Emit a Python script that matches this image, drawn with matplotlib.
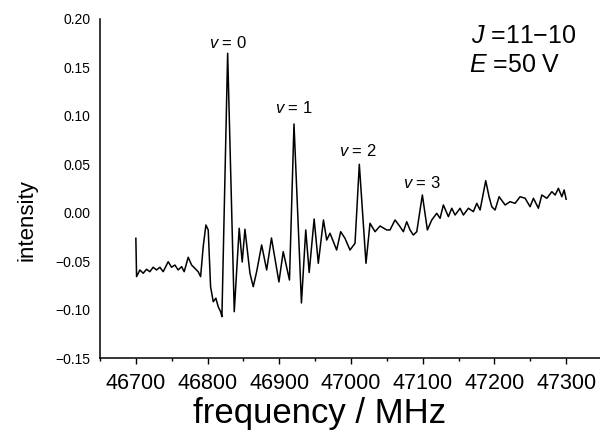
import matplotlib
matplotlib.use("Agg")
import matplotlib.pyplot as plt
from matplotlib.ticker import MultipleLocator, FuncFormatter

plt.rcParams['font.family'] = ['Liberation Sans', 'DejaVu Sans']
plt.rcParams['mathtext.fontset'] = 'custom'
plt.rcParams['mathtext.it'] = 'Liberation Sans:italic'
plt.rcParams['mathtext.rm'] = 'Liberation Sans'

freq = [46700.0, 46701.0, 46705.6, 46710.2, 46714.9, 46719.5, 46724.1, 46728.9, 46733.5, 46738.1,
        46745.1, 46749.8, 46754.4, 46759.0, 46763.8, 46767.4, 46773.0, 46777.7, 46782.3, 46786.9,
        46790.3, 46793.9, 46797.7, 46800.9, 46804.2, 46807.9, 46811.6, 46814.8, 46818.2, 46820.0,
        46828.0, 46837.2, 46844.1, 46848.3, 46852.1, 46859.1, 46863.7, 46868.4, 46875.4, 46882.4,
        46889.1, 46899.5, 46905.5, 46914.2, 46920.5, 46930.9, 46936.9, 46941.7, 46948.6, 46954.4,
        46961.6, 46966.1, 46970.7, 46974.5, 46980.0, 46985.6, 46991.6, 46998.6, 47005.6, 47011.6,
        47020.9, 47026.5, 47033.5, 47040.5, 47049.8, 47054.4, 47061.4, 47068.4, 47073.0, 47077.7,
        47082.3, 47086.9, 47091.7, 47099.5, 47106.5, 47112.6, 47119.6, 47124.2, 47128.8, 47135.8,
        47140.5, 47145.1, 47152.1, 47156.7, 47163.7, 47170.6, 47175.4, 47180.0, 47187.9, 47192.5,
        47196.3, 47200.9, 47206.5, 47214.9, 47221.8, 47228.8, 47235.8, 47242.8, 47249.7, 47254.4,
        47261.3, 47266.1, 47273.1, 47280.1, 47284.7, 47289.2, 47294.0, 47297.2, 47300.0]

intensity = [-0.0264, -0.0660, -0.0591, -0.0625, -0.0584, -0.0609, -0.0563, -0.0591, -0.0563, -0.0609,
             -0.0506, -0.0563, -0.0540, -0.0591, -0.0557, -0.0609, -0.0460, -0.0540, -0.0574, -0.0609,
             -0.0660, -0.0351, -0.0127, -0.0178, -0.0764, -0.0919, -0.0883, -0.0970, -0.1022, -0.1073,
             0.1646, -0.1022, -0.0161, -0.0509, -0.0171, -0.0625, -0.0764, -0.0610, -0.0333, -0.0591,
             -0.0261, -0.0715, -0.0402, -0.0695, 0.0916, -0.0932, -0.0178, -0.0617, -0.0065, -0.0522,
             -0.0075, -0.0282, -0.0212, -0.0282, -0.0385, -0.0196, -0.0264, -0.0385, -0.0316, 0.0500,
             -0.0522, -0.0109, -0.0196, -0.0137, -0.0178, -0.0178, -0.0075, -0.0144, -0.0196, -0.0093,
             -0.0178, -0.0230, -0.0196, 0.0183, -0.0178, -0.0075, -0.0006, -0.0058, 0.0080, -0.0041,
             0.0046, -0.0024, 0.0046, -0.0024, 0.0046, 0.0011, 0.0097, 0.0028, 0.0331, 0.0165,
             0.0062, 0.0028, 0.0165, 0.0080, 0.0114, 0.0097, 0.0165, 0.0149, 0.0062, 0.0149,
             0.0046, 0.0183, 0.0149, 0.0217, 0.0183, 0.0252, 0.0165, 0.0235, 0.0139]

x_ticks = [46700, 46800, 46900, 47000, 47100, 47200, 47300]
y_ticks = [-0.15, -0.10, -0.05, 0.00, 0.05, 0.10, 0.15, 0.20]

peak_labels = ["0", "1", "2", "3"]
peak_freq = [46829, 46920, 47010, 47099]
peak_y = [0.175, 0.108, 0.064, 0.031]

fig = plt.figure(figsize=(6.0, 4.32), dpi=100)
ax = fig.add_axes([100/600, 74/432, 502/600, 339/432])

ax.plot(freq, intensity, color='black', lw=1.1)

ax.set_xlim(46650, 47350)
ax.set_ylim(-0.15, 0.20)

for s in ['top', 'right']:
    ax.spines[s].set_visible(False)
for s in ['left', 'bottom']:
    ax.spines[s].set_linewidth(1.1)

ax.set_xticks(x_ticks)
ax.set_xticklabels([str(v) for v in x_ticks])
ax.xaxis.set_minor_locator(MultipleLocator(50))
ax.set_yticks(y_ticks)
ax.yaxis.set_major_formatter(FuncFormatter(lambda v, p: ("%.2f" % v).replace("-0.00", "0.00").replace("-", "\u2212")))

ax.tick_params(axis='x', which='major', direction='out', length=4.5, width=1.0, labelsize=15.5, pad=6)
ax.tick_params(axis='x', which='minor', direction='out', length=2.5, width=1.0)
ax.tick_params(axis='y', which='both', length=0, labelsize=10, pad=7)

ax.set_xlabel("frequency / MHz", fontsize=25)
ax.xaxis.set_label_coords(0.438, -0.115)
ax.set_ylabel("intensity", fontsize=16)
ax.yaxis.set_label_coords(-0.125, 0.407)

for lab, fx, fy in zip(peak_labels, peak_freq, peak_y):
    ax.text(fx, fy, r"$\mathit{v}$ = " + lab, fontsize=12, ha='center', va='center')

ax.text(47167, 0.1824, r"$\mathit{J}$ =11" + "\u2212" + "10", fontsize=18, ha='left', va='center')
ax.text(47165, 0.152, r"$\mathit{E}$ =50 V", fontsize=18, ha='left', va='center')

fig.savefig("out.png", dpi=100)
